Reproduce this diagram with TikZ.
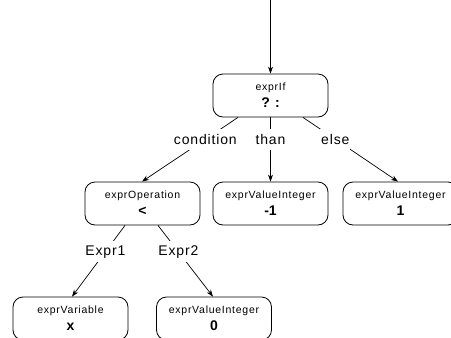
\documentclass[tikz,border=0pt]{standalone}
\usepackage{fontspec}
\setmainfont{Liberation Sans}
\newfontfamily\boxfont[LetterSpace=7]{Liberation Sans}
\newfontfamily\labfont[LetterSpace=6]{Liberation Sans}
\usetikzlibrary{arrows.meta}
\begin{document}
\begin{tikzpicture}[x=1pt,y=-1pt,
  exprbox/.style={draw,rounded corners=10pt,minimum width=115pt,minimum height=43pt,inner sep=0pt,align=center,line width=0.8pt},
  arr/.style={line width=0.7pt,-{Stealth[length=7pt,width=5pt]}},
  lab/.style={fill=white,inner sep=1pt,minimum height=21pt,font=\labfont\fontsize{14}{14}\selectfont}]
\clip (0,0) rectangle (451,338);
\newcommand{\bx}[2]{{\boxfont\fontsize{10.5}{12}\selectfont #1}\\[5pt]{\bfseries\fontsize{14}{14}\selectfont #2}}
\coordinate (top) at (270.5,0);
\node[exprbox] (if) at (270.5,95.5) {\bx{exprIf}{? :}};
\node[exprbox] (op) at (142.5,203.5) {\bx{exprOperation}{<}};
\node[exprbox] (m1) at (270.5,203.5) {\bx{exprValueInteger}{-1}};
\node[exprbox] (p1) at (400.5,203.5) {\bx{exprValueInteger}{1}};
\node[exprbox] (var) at (70.5,318.5) {\bx{exprVariable}{x}};
\node[exprbox] (zero) at (214,318.5) {\bx{exprValueInteger}{0}};
\draw[arr] (top) -- (if);
\draw[arr] ([xshift=-32.5pt]if.south) -- node[lab,pos=0.34] (lc) {condition} ([xshift=-0.5pt]op.north);
\draw[arr] (if.south) -- node[lab,pos=0.34] (lt) {than} (m1.north);
\draw[arr] ([xshift=32.5pt]if.south) -- node[lab,pos=0.34] (le) {else} ([xshift=-2.5pt]p1.north);
\draw[arr] ([xshift=-17.5pt]op.south) -- node[lab,pos=0.37] (l1) {Expr1} ([xshift=1.5pt]var.north);
\draw[arr] ([xshift=15.5pt]op.south) -- node[lab,pos=0.37] (l2) {Expr2} ([xshift=-1pt]zero.north);
\end{tikzpicture}
\end{document}
